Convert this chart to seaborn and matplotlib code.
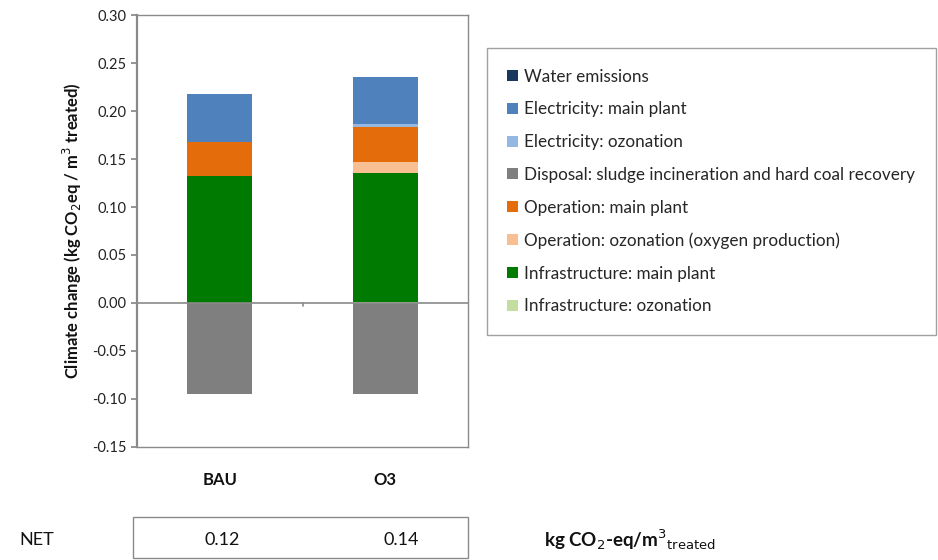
import matplotlib
matplotlib.use("Agg")
import matplotlib.pyplot as plt
import seaborn as sns
import numpy as np
from matplotlib.patches import Patch, Rectangle

sns.set_theme(style="white")
plt.rcParams['font.family'] = ['Lato', 'DejaVu Sans']

categories = ["BAU", "O3"]
# series in stacking order (bottom -> top for positives)
infra_ozonation = [0.0, 0.0005]
infra_main = [0.132, 0.1345]
oper_ozonation = [0.0, 0.012]
oper_main = [0.036, 0.036]
elec_ozonation = [0.0, 0.004]
elec_main = [0.050, 0.049]
water_emissions = [0.0, 0.0]
disposal = [-0.095, -0.095]

series_names = [
    "Infrastructure: ozonation",
    "Infrastructure: main plant",
    "Operation: ozonation (oxygen production)",
    "Operation: main plant",
    "Disposal: sludge incineration and hard coal recovery",
    "Electricity: ozonation",
    "Electricity: main plant",
    "Water emissions",
]
series_values = [infra_ozonation, infra_main, oper_ozonation, oper_main,
                 disposal, elec_ozonation, elec_main, water_emissions]
series_colors = ["#c3dea0", "#007a00", "#f8bf92", "#e46c0a",
                 "#7f7f7f", "#95b8e3", "#4f81bd", "#17375e"]

fig = plt.figure(figsize=(9.38, 5.6), dpi=100)
ax = fig.add_axes([0.146, 0.202, 0.353, 0.771])

pos_bottom = np.zeros(len(categories))
neg_bottom = np.zeros(len(categories))
for name, vals, col in zip(series_names, series_values, series_colors):
    v = np.array(vals, dtype=float)
    if np.all(v <= 0):
        b = neg_bottom.copy()
        neg_bottom = neg_bottom + v
    else:
        b = pos_bottom.copy()
        pos_bottom = pos_bottom + v
    sns.barplot(x=categories, y=v, bottom=b, color=col, width=0.39,
                saturation=1, ax=ax, linewidth=0, zorder=3)

ax.set_xlim(-0.5, 1.5)
ax.set_ylim(-0.15, 0.30)
ax.set_yticks(np.arange(-0.15, 0.301, 0.05))
ax.set_yticklabels([f"{t:.2f}" for t in np.arange(-0.15, 0.301, 0.05)], fontsize=10.5, color="#222222")
ax.set_xticks(range(len(categories)))
ax.set_xticklabels(categories, fontsize=12, fontweight="bold", color="#111111")
ax.tick_params(axis="x", length=0, pad=18)
ax.tick_params(axis="y", length=4, color="#888888", direction="out", left=True)
ax.axhline(0, color="#8a8a8a", lw=1.2, zorder=4)
ax.axvline(0.5, ymin=0.327, ymax=0.3335, color="#8a8a8a", lw=1.2, zorder=4)
for s in ax.spines.values():
    s.set_color("#8a8a8a")
    s.set_linewidth(1.0)
ax.spines["left"].set_linewidth(1.6)
ax.set_ylabel("Climate change (kg CO$_2$eq / m$^3$ treated)", fontsize=12,
              fontweight="bold", color="#111111", labelpad=6)

# Legend (Excel style: reversed order)
handles = [Patch(facecolor=c, edgecolor="none") for c in series_colors][::-1]
labels = series_names[::-1]
leg = fig.legend(handles, labels, loc="upper left", bbox_to_anchor=(0.519, 0.914),
                 frameon=True, fancybox=False, fontsize=12.3, handlelength=0.6,
                 handleheight=0.6, handletextpad=0.4, labelspacing=0.98,
                 borderpad=1.2, borderaxespad=0)
leg.get_frame().set_edgecolor("#8a8a8a")
leg.get_frame().set_linewidth(1.0)

# NET table
net = [sum(s[i] for s in series_values) for i in range(len(categories))]
fig.add_artist(Rectangle((0.142, 0.004), 0.357, 0.073, transform=fig.transFigure,
                         fill=False, edgecolor="#8a8a8a", lw=1.0))
fig.text(0.021, 0.036, "NET", fontsize=13, va="center", ha="left", color="#111111")
for xc, v in zip([0.237, 0.428], net):
    fig.text(xc, 0.036, f"{v:.2f}", fontsize=13, va="center", ha="center", color="#111111")
fig.text(0.580, 0.036, "kg CO$_2$-eq/m$^3$$_{\\mathrm{treated}}$", fontsize=13.5,
         fontweight="bold", va="center", ha="left", color="#111111")

fig.savefig("out.png", dpi=100)
